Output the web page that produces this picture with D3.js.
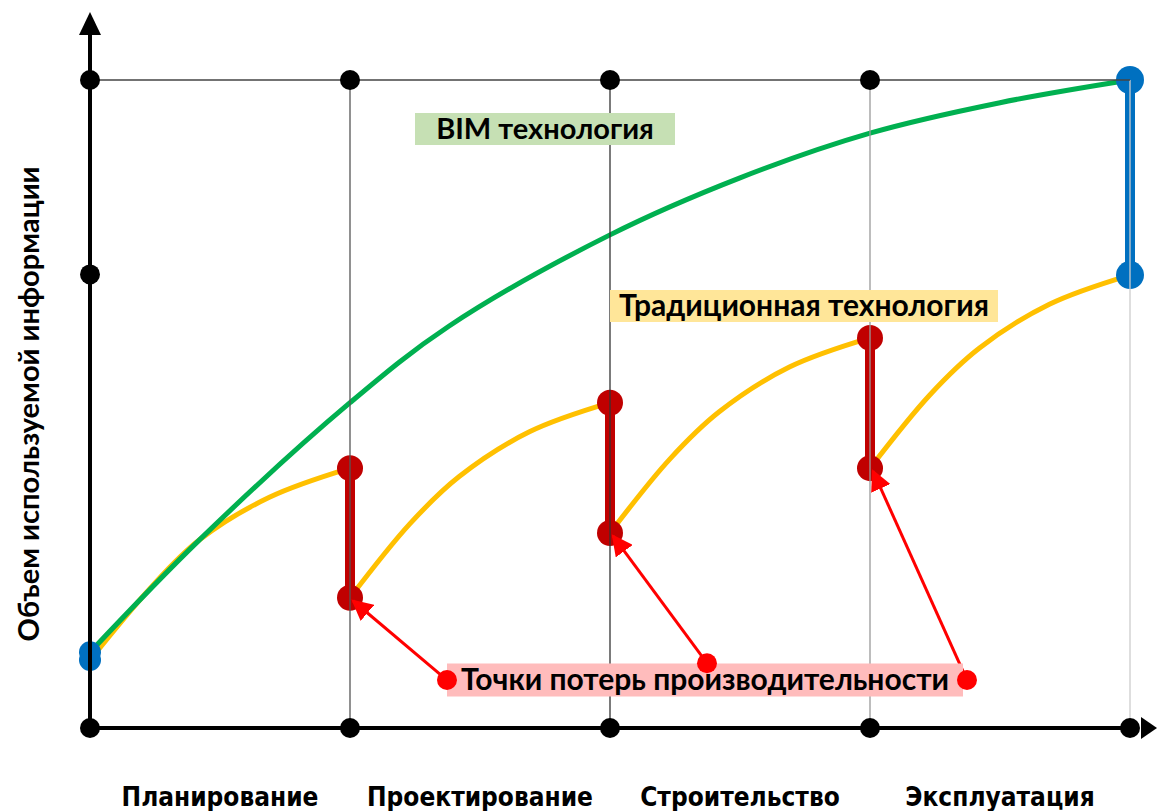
<!DOCTYPE html>
<html>
<head>
<meta charset="utf-8">
<script src="https://cdn.jsdelivr.net/npm/d3@7"></script>
<style>
  html, body { margin: 0; padding: 0; background: #fff; }
  svg { display: block; }
</style>
</head>
<body>
<div id="chart"></div>
<script>
// phases along the x axis
const phases = ["Планирование", "Проектирование", "Строительство", "Эксплуатация"];

// BIM curve
const bimX = [0, 0.42, 1, 1.38, 2, 2.5, 3, 3.5, 4];
const bimY = [1.17, 2.9, 5.02, 6.2, 7.61, 8.49, 9.18, 9.65, 10];

// traditional curve: same offsets inside each phase
const tradOffsets = [0, 0.23, 0.42, 0.69, 1];
const tradY = [
  [1.05, 2.15, 2.9, 3.56, 4.01],
  [2.01, 3.15, 3.88, 4.57, 5.02],
  [3.01, 4.15, 4.88, 5.57, 6.02],
  [4.01, 5.14, 5.86, 6.54, 6.99]
];

// productivity loss points (phase boundary, low, high)
const lossX = [1, 2, 3];
const lossLow = [2.01, 3.01, 4.01];
const lossHigh = [4.01, 5.02, 6.02];

// final gap between BIM and traditional
const gapX = 4;
const gapLow = 6.99;
const gapHigh = 10;

// annotation arrow origins
const arrowX = [1.373, 2.373, 3.373];
const arrowY = [0.74, 1.0, 0.74];

const xTicks = [0, 1, 2, 3, 4];

const width = 1157, height = 811;
const x = d3.scaleLinear().domain([0, 4]).range([90, 1130]);
const y = d3.scaleLinear().domain([0, 10]).range([728, 80]);

const svg = d3.select("#chart").append("svg")
  .attr("width", width)
  .attr("height", height);

const font = "Lato, 'Open Sans', 'DejaVu Sans', sans-serif";

// arrowhead marker
const defs = svg.append("defs");
defs.append("marker")
  .attr("id", "redhead")
  .attr("viewBox", "0 0 10 10")
  .attr("refX", 9).attr("refY", 5)
  .attr("markerWidth", 7).attr("markerHeight", 7)
  .attr("markerUnits", "strokeWidth")
  .attr("orient", "auto")
  .append("path").attr("d", "M0,0 L10,5 L0,10 Z").attr("fill", "#ff0000");

// curves
const line = d3.line().x(d => x(d[0])).y(d => y(d[1])).curve(d3.curveCatmullRom.alpha(0.5));

tradY.forEach((ys, i) => {
  svg.append("path")
    .datum(ys.map((v, j) => [i + tradOffsets[j], v]))
    .attr("d", line)
    .attr("fill", "none")
    .attr("stroke", "#ffc000")
    .attr("stroke-width", 5);
});

svg.append("path")
  .datum(bimX.map((v, i) => [v, bimY[i]]))
  .attr("d", line)
  .attr("fill", "none")
  .attr("stroke", "#00b050")
  .attr("stroke-width", 5);

// loss bars
lossX.forEach((lx, i) => {
  svg.append("line")
    .attr("x1", x(lx)).attr("x2", x(lx))
    .attr("y1", y(lossLow[i])).attr("y2", y(lossHigh[i]))
    .attr("stroke", "#c00000").attr("stroke-width", 10);
  [lossLow[i], lossHigh[i]].forEach(v => {
    svg.append("circle").attr("cx", x(lx)).attr("cy", y(v)).attr("r", 13).attr("fill", "#c00000");
  });
});

// final gap bar
svg.append("line")
  .attr("x1", x(gapX)).attr("x2", x(gapX))
  .attr("y1", y(gapLow)).attr("y2", y(gapHigh))
  .attr("stroke", "#0070c0").attr("stroke-width", 10);
[gapLow, gapHigh].forEach(v => {
  svg.append("circle").attr("cx", x(gapX)).attr("cy", y(v)).attr("r", 14).attr("fill", "#0070c0");
});

// start points
svg.append("circle").attr("cx", x(0)).attr("cy", y(tradY[0][0])).attr("r", 11).attr("fill", "#0070c0");
svg.append("circle").attr("cx", x(0)).attr("cy", y(bimY[0])).attr("r", 11).attr("fill", "#0070c0");

// grid lines
const gridColors = ["#000", "#555", "#333", "#999", "#ccc"];
xTicks.slice(1).forEach(t => {
  svg.append("line")
    .attr("x1", x(t)).attr("x2", x(t))
    .attr("y1", y(10)).attr("y2", y(0))
    .attr("stroke", gridColors[t]).attr("stroke-width", 1.3);
});
svg.append("line")
  .attr("x1", x(0)).attr("x2", x(4))
  .attr("y1", y(10)).attr("y2", y(10))
  .attr("stroke", "#444").attr("stroke-width", 1.5);

// axes with arrows
svg.append("line")
  .attr("x1", x(0)).attr("x2", x(0))
  .attr("y1", y(0)).attr("y2", 30)
  .attr("stroke", "#000").attr("stroke-width", 4);
svg.append("path")
  .attr("d", `M${x(0)},12 L${x(0) - 11},35 L${x(0) + 11},35 Z`)
  .attr("fill", "#000");
svg.append("line")
  .attr("x1", x(0)).attr("x2", 1135)
  .attr("y1", y(0)).attr("y2", y(0))
  .attr("stroke", "#000").attr("stroke-width", 4);
svg.append("path")
  .attr("d", `M1157,${y(0)} L1141,${y(0) - 11} L1141,${y(0) + 11} Z`)
  .attr("fill", "#000");

// black dots at grid intersections
const dots = [];
xTicks.forEach(t => dots.push([t, 0]));
xTicks.slice(0, 4).forEach(t => dots.push([t, 10]));
dots.push([0, 7]);
svg.selectAll(".gdot")
  .data(dots)
  .join("circle")
  .attr("class", "gdot")
  .attr("cx", d => x(d[0]))
  .attr("cy", d => y(d[1]))
  .attr("r", 10)
  .attr("fill", "#000");

// labels with backgrounds
function boxLabel(text, cx, cy, bg, w, h, fs) {
  svg.append("rect")
    .attr("x", cx - w / 2).attr("y", cy - h / 2)
    .attr("width", w).attr("height", h)
    .attr("fill", bg);
  svg.append("text")
    .attr("x", cx).attr("y", cy + 10)
    .attr("text-anchor", "middle")
    .style("font-family", font)
    .style("font-weight", "700")
    .style("font-size", fs + "px")
    .attr("fill", "#000")
    .text(text);
}

// annotation arrows
arrowX.forEach((ax, i) => {
  const x0 = x(ax), y0 = y(arrowY[i]);
  const x1 = x(lossX[i]) + 3, y1 = y(lossLow[i]) + 3;
  svg.append("line")
    .attr("x1", x0).attr("y1", y0).attr("x2", x1).attr("y2", y1)
    .attr("stroke", "#ff0000").attr("stroke-width", 3)
    .attr("marker-end", "url(#redhead)");
});

boxLabel("BIM технология", 545, 129, "#c6e0b4", 260, 32, 29);
boxLabel("Традиционная технология", 804, 306, "#ffe699", 388, 32, 30);
boxLabel("Точки потерь производительности", 705, 680, "#ffbcbc", 516, 33, 30);

arrowX.forEach((ax, i) => {
  svg.append("circle").attr("cx", x(ax)).attr("cy", y(arrowY[i])).attr("r", 10).attr("fill", "#ff0000");
});

// phase labels
svg.selectAll(".phase")
  .data(phases)
  .join("text")
  .attr("class", "phase")
  .attr("x", (d, i) => x(i + 0.5))
  .attr("y", 806)
  .attr("text-anchor", "middle")
  .style("font-family", "'Liberation Sans Narrow', 'DejaVu Sans Condensed', sans-serif")
  .style("font-weight", "700")
  .style("font-size", "26px")
  .text(d => d);

// y axis title
svg.append("text")
  .attr("transform", `translate(39,404) rotate(-90)`)
  .attr("text-anchor", "middle")
  .style("font-family", font)
  .style("font-weight", "700")
  .style("font-size", "29px")
  .text("Объем используемой информации");
</script>
</body>
</html>
